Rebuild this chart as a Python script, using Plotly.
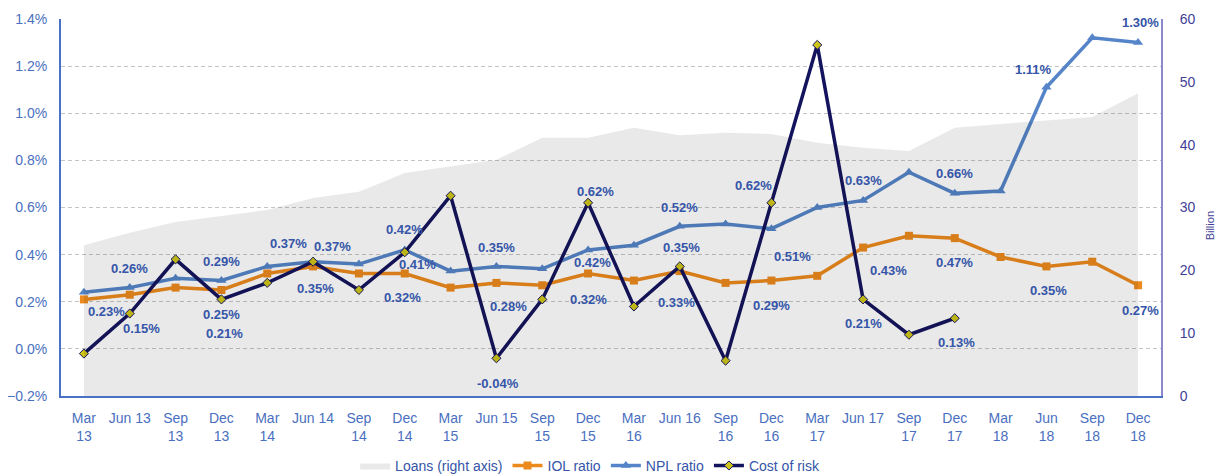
import plotly.graph_objects as go

categories = ["Mar 13", "Jun 13", "Sep 13", "Dec 13", "Mar 14", "Jun 14", "Sep 14", "Dec 14",
              "Mar 15", "Jun 15", "Sep 15", "Dec 15", "Mar 16", "Jun 16", "Sep 16", "Dec 16",
              "Mar 17", "Jun 17", "Sep 17", "Dec 17", "Mar 18", "Jun 18", "Sep 18", "Dec 18"]
tick_labels = ["Mar<br>13", "Jun 13", "Sep<br>13", "Dec<br>13", "Mar<br>14", "Jun 14", "Sep<br>14", "Dec<br>14",
               "Mar<br>15", "Jun 15", "Sep<br>15", "Dec<br>15", "Mar<br>16", "Jun 16", "Sep<br>16", "Dec<br>16",
               "Mar<br>17", "Jun 17", "Sep<br>17", "Dec<br>17", "Mar<br>18", "Jun<br>18", "Sep<br>18", "Dec<br>18"]

loans = [24.0, 26.0, 27.7, 28.6, 29.6, 31.5, 32.5, 35.5, 36.6, 37.6, 41.1, 41.1,
         42.7, 41.5, 41.9, 41.7, 40.3, 39.5, 39.0, 42.7, 43.3, 43.8, 44.4, 48.2]
iol = [0.21, 0.23, 0.26, 0.25, 0.32, 0.35, 0.32, 0.32, 0.26, 0.28, 0.27, 0.32,
       0.29, 0.33, 0.28, 0.29, 0.31, 0.43, 0.48, 0.47, 0.39, 0.35, 0.37, 0.27]
npl = [0.24, 0.26, 0.30, 0.29, 0.35, 0.37, 0.36, 0.42, 0.33, 0.35, 0.34, 0.42,
       0.44, 0.52, 0.53, 0.51, 0.60, 0.63, 0.75, 0.66, 0.67, 1.11, 1.32, 1.30]
cor = [-0.02, 0.15, 0.38, 0.21, 0.28, 0.37, 0.25, 0.41, 0.65, -0.04, 0.21, 0.62,
       0.18, 0.35, -0.05, 0.62, 1.29, 0.21, 0.06, 0.13, None, None, None, None]

# label placement offsets (px): index -> (xshift, yshift)
npl_lab = {1: (0, 19), 3: (0, 19), 5: (-25, 18), 7: (0, 20), 9: (0, 19), 11: (4, -13),
           13: (0, 19), 15: (21, -28), 17: (0, 20), 19: (0, 20), 21: (-13, 18), 23: (2, 20)}
iol_lab = {1: (-23, -17), 3: (0, -25), 5: (2, -22), 7: (-2, -24), 9: (12, -24), 11: (0, -26),
           13: (-3, -31), 15: (0, -25), 17: (25, -23), 19: (0, -24), 21: (2, -24), 23: (2, -25)}
cor_lab = {1: (12, -15), 3: (3, -34), 5: (19, 15), 7: (13, -12), 9: (2, -25), 11: (7, 11),
           13: (2, 19), 15: (-18, 17), 17: (0, -24), 19: (2, -24)}

ORANGE = "#EC8A1E"
LBLUE = "#5585C8"
NAVY = "#14145E"
TXT = "#3555A8"

fig = go.Figure()
fig.add_trace(go.Scatter(x=categories, y=loans, name="Loans (right axis)", yaxis="y2",
                         mode="lines", line=dict(width=0), fill="tozeroy",
                         fillcolor="rgba(0,0,0,0.085)"))
fig.add_trace(go.Scatter(x=categories, y=iol, name="IOL ratio", mode="lines+markers",
                         line=dict(color=ORANGE, width=3.5),
                         marker=dict(symbol="square", size=8, color=ORANGE)))
fig.add_trace(go.Scatter(x=categories, y=npl, name="NPL ratio", mode="lines+markers",
                         line=dict(color=LBLUE, width=3.5),
                         marker=dict(symbol="triangle-up", size=9, color=LBLUE)))
fig.add_trace(go.Scatter(x=categories, y=cor, name="Cost of risk", mode="lines+markers",
                         line=dict(color=NAVY, width=3.5),
                         marker=dict(symbol="diamond", size=7, color="#CFC51A",
                                     line=dict(color=NAVY, width=1))))

annotations = []
for series, labs in ((npl, npl_lab), (iol, iol_lab), (cor, cor_lab)):
    for i, (dx, dy) in labs.items():
        v = series[i]
        annotations.append(dict(x=categories[i], y=v, xref="x", yref="y",
                                text=f"{v:.2f}%", showarrow=False, xshift=dx, yshift=dy,
                                font=dict(family="Liberation Sans, Arial", size=13,
                                          color=TXT, weight="bold")))
annotations.append(dict(x=1, y=0.45, xref="paper", yref="paper", xshift=57,
                        text="Billion", textangle=-90, showarrow=False,
                        font=dict(family="Liberation Sans, Arial", size=11, color="#3F3F98")))

fig.update_layout(
    width=1224, height=476,
    margin=dict(l=53, r=71, t=11, b=88),
    plot_bgcolor="white", paper_bgcolor="white",
    font=dict(family="Liberation Sans, Arial", size=14, color="#4A6FC0"),
    showlegend=True,
    legend=dict(orientation="h", x=0.481, xanchor="center", xref="paper",
                y=0.038, yanchor="middle", yref="container", bgcolor="rgba(0,0,0,0)",
                font=dict(size=14, color="#3555A8"), traceorder="normal"),
    xaxis=dict(type="category", range=[-0.5, 23.5], tickmode="array", tickvals=categories,
               ticktext=tick_labels, showline=True, linecolor="#4A72C4", linewidth=2,
               showgrid=False, ticks="", ticklabelstandoff=8, automargin=False,
               tickfont=dict(size=14, color="#4A6FC0")),
    yaxis=dict(range=[-0.2, 1.4], dtick=0.2, tickformat=".1f", ticksuffix="%",
               showline=True, linecolor="#4A72C4", linewidth=2, zeroline=False,
               showgrid=True, gridcolor="#C4C4C4", griddash="4px,3px", gridwidth=1,
               ticks="", ticklabelstandoff=9, automargin=False,
               tickfont=dict(size=14, color="#4A6FC0")),
    yaxis2=dict(range=[0, 60], dtick=10, overlaying="y", side="right", showgrid=False,
                showline=True, linecolor="#8A8AC8", linewidth=2, zeroline=False,
                ticks="", ticklabelstandoff=14, automargin=False,
                tickfont=dict(size=14, color="#3F3F98")),
    annotations=annotations,
)

fig.write_html("out.html")
